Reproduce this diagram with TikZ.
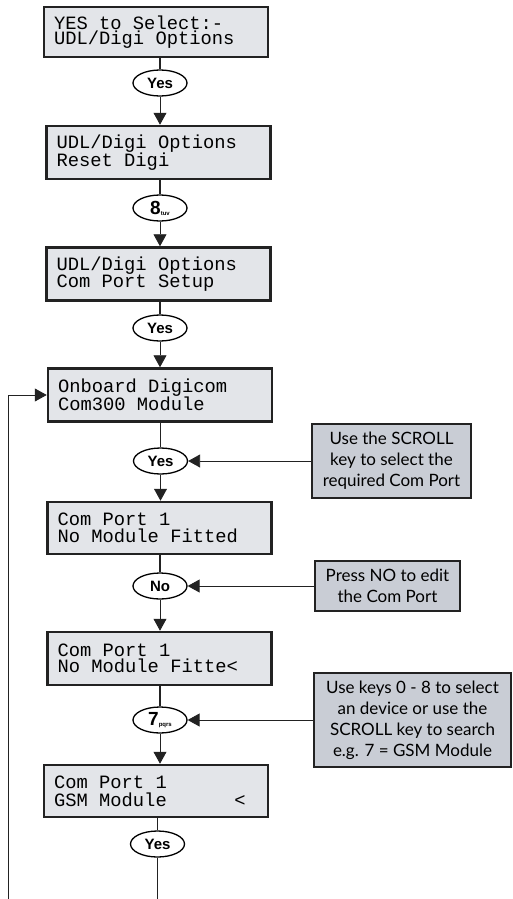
\documentclass[tikz,border=0pt]{standalone}
\usepackage{fontspec}
\setmainfont{Liberation Sans}
\newfontfamily\lcdfont{Liberation Mono}
\newfontfamily\notefont{Lato}
\usetikzlibrary{arrows.meta,shapes.geometric}
\definecolor{lcdfill}{HTML}{E3E5E9}
\definecolor{lcdedge}{HTML}{222222}
\definecolor{notefill}{HTML}{C9CDD5}
\newcommand\lcdsize[1]{\lcdfont\fontsize{18.8}{#1}\selectfont}
\newcommand\ls{\hspace*{0.6em}}
\begin{document}
\begin{tikzpicture}[x=1pt,y=-1pt,
  lcd/.style={draw=lcdedge, line width=2.5pt, fill=lcdfill, minimum width=224pt, minimum height=53pt,
    inner xsep=10pt, inner ysep=0pt, text width=204pt, align=left,
    font=\lcdsize{16.5}},
  key/.style={draw=black, ellipse, line width=1.3pt, fill=white, minimum width=54pt, minimum height=26pt,
    inner sep=0pt, font=\bfseries\fontsize{15}{15}\selectfont},
  note/.style={draw=lcdedge, line width=2pt, fill=notefill, align=center, inner sep=0pt,
    font=\notefont\fontsize{17}{21}\selectfont},
  down/.style={line width=1.8pt, draw=lcdedge},
  flow/.style={line width=0.9pt, draw=lcdedge, -{Triangle[width=13pt,length=12pt]}},
  plain/.style={line width=0.9pt, draw=lcdedge},
]
\useasboundingbox (0,0) rectangle (512,899);

% LCD boxes
\node[lcd, minimum height=50pt, font=\lcdsize{14.5}] (b1) at (156,32) {YES\ls to\ls Select:-\\UDL/Digi\ls Options};
\node[lcd] (b2) at (158.5,152.5) {UDL/Digi\ls Options\\Reset\ls Digi};
\node[lcd] (b3) at (158.5,274) {UDL/Digi\ls Options\\Com\ls Port\ls Setup};
\node[lcd, font=\lcdsize{14.5}] (b4) at (160,395) {Onboard\ls Digicom\\Com300\ls Module};
\node[lcd, minimum height=52pt] (b5) at (159.5,528) {Com\ls Port\ls 1\\No\ls Module\ls Fitted};
\node[lcd] (b6) at (159.5,658.5) {Com\ls Port\ls 1\\No\ls Module\ls Fitte<};
\node[lcd, minimum height=52pt, font=\lcdsize{18}] (b7) at (156,791) {Com\ls Port\ls 1\\GSM\ls Module\hspace*{3.6em}<};

% key ovals
\node[key] (k1) at (160,83) {Yes};
\node[key] (k2) at (160,208) {\fontsize{19}{19}\selectfont 8\raisebox{-1pt}{\fontsize{6}{6}\selectfont tuv}};
\node[key] (k3) at (160,328) {Yes};
\node[key] (k4) at (160.5,461) {Yes};
\node[key] (k5) at (160,586) {No};
\node[key] (k6) at (160,720) {\fontsize{19}{19}\selectfont 7\raisebox{-1pt}{\fontsize{6}{6}\selectfont pqrs}};
\node[key] (k7) at (157.5,844) {Yes};

% notes
\node[note, minimum width=159pt, minimum height=74pt] (n1) at (391.5,461) {Use the SCROLL\\key to select the\\required Com Port};
\node[note, minimum width=145pt, minimum height=50pt] (n2) at (387.5,586) {Press NO to edit\\the Com Port};
\node[note, minimum width=197pt, minimum height=94pt] (n3) at (412.5,720) {Use keys 0 - 8 to select\\an device or use the\\SCROLL key to search\\e.g. 7 = GSM Module};

% main flow
\draw[down] (k1 |- b1.south) -- (k1.north);
\draw[flow] (k1.south) -- (k1 |- b2.north);
\draw[down] (k2 |- b2.south) -- (k2.north);
\draw[flow] (k2.south) -- (k2 |- b3.north);
\draw[down] (k3 |- b3.south) -- (k3.north);
\draw[flow] (k3.south) -- (k3 |- b4.north);
\draw[down] (k4 |- b4.south) -- (k4.north);
\draw[flow] (k4.south) -- (k4 |- b5.north);
\draw[down] (k5 |- b5.south) -- (k5.north);
\draw[flow] (k5.south) -- (k5 |- b6.north);
\draw[down] (k6 |- b6.south) -- (k6.north);
\draw[flow] (k6.south) -- (k6 |- b7.north);
\draw[down] (k7 |- b7.south) -- (k7.north);
\coordinate (bend) at (157.5,899);
\draw[plain] (k7.south) -- (bend);

% loop back
\coordinate (loop) at (8,899);
\draw[flow] (loop) |- (b4.west);

% note arrows
\draw[flow] (n1.west) -- (k4.east);
\draw[flow] (n2.west) -- (k5.east);
\draw[flow] (n3.west) -- (k6.east);
\end{tikzpicture}
\end{document}
